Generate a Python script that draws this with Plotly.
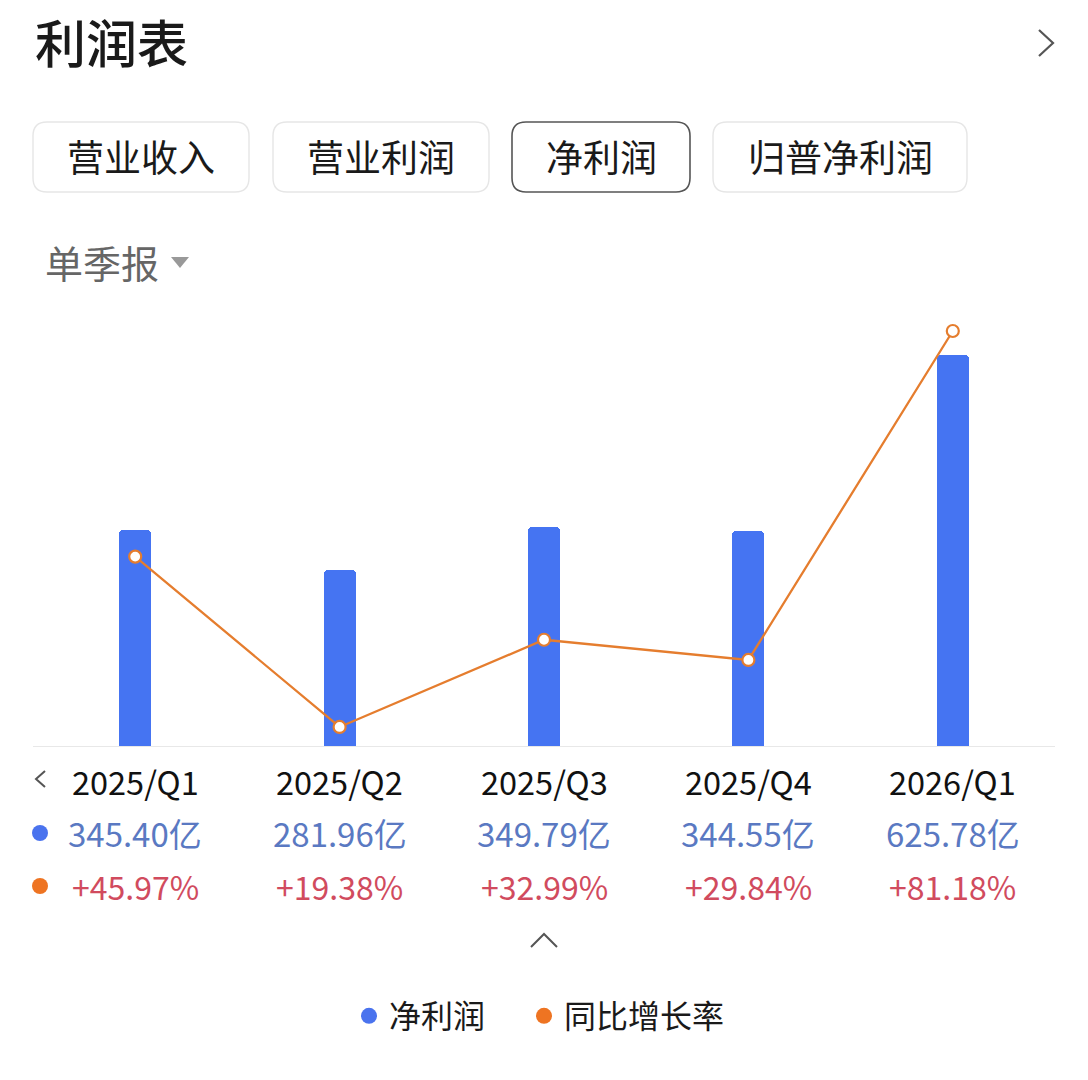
import plotly.graph_objects as go

# ---------------- data ----------------
categories = ["2025/Q1", "2025/Q2", "2025/Q3", "2025/Q4", "2026/Q1"]
net_profit = [345.40, 281.96, 349.79, 344.55, 625.78]          # 亿
yoy_growth = [45.97, 19.38, 32.99, 29.84, 81.18]               # %
tab_labels = ["营业收入", "营业利润", "净利润", "归普净利润"]
series_names = ["净利润", "同比增长率"]

W, H = 1088, 1080
FONT = "Noto Sans CJK SC, Noto Sans, sans-serif"
BLUE = "#4574F2"
ORANGE = "#E57D2E"
VAL_BLUE = "#5A79C2"
PCT_RED = "#D14B5E"


def px(x):
    return x / W


def py(y):
    return 1 - y / H


# plot area in pixels
PL, PR, PT, PB = 33, 1055, 300, 746

fig = go.Figure()

fig.add_trace(go.Bar(
    x=categories, y=net_profit, name=series_names[0],
    marker=dict(color=BLUE, cornerradius=4, line=dict(width=0)),
    width=0.157, showlegend=False, hoverinfo="x+y",
))
fig.add_trace(go.Scatter(
    x=categories, y=yoy_growth, name=series_names[1], yaxis="y2",
    mode="lines+markers",
    line=dict(color=ORANGE, width=2.3),
    marker=dict(symbol="circle", size=12, color="white",
                line=dict(color=ORANGE, width=2.2)),
    showlegend=False, cliponaxis=False,
))
# legend entries (circle symbols), one legend box each
fig.add_trace(go.Scatter(x=[None], y=[None], mode="markers", name=series_names[0],
                         legend="legend",
                         marker=dict(symbol="circle", size=16, color="#4A73EE")))
fig.add_trace(go.Scatter(x=[None], y=[None], mode="markers", name=series_names[1],
                         legend="legend2",
                         marker=dict(symbol="circle", size=16, color="#EE7422")))

shapes = []
annotations = []

# title and chevron
annotations.append(dict(text="利润表", x=px(33), y=py(41), xref="paper", yref="paper",
                        xanchor="left", yanchor="middle", showarrow=False,
                        font=dict(family=FONT, size=51, color="#1a1a1a", weight=500)))
shapes.append(dict(type="path", xref="paper", yref="paper",
                   path=f"M {px(1039)},{py(30)} L {px(1053)},{py(43)} L {px(1039)},{py(56)}",
                   line=dict(color="#555555", width=2.2)))


def rounded_rect(x0, y0, x1, y1, r):
    X = lambda v: px(v)
    Y = lambda v: py(v)
    return (f"M {X(x0 + r)},{Y(y0)} L {X(x1 - r)},{Y(y0)} Q {X(x1)},{Y(y0)} {X(x1)},{Y(y0 + r)} "
            f"L {X(x1)},{Y(y1 - r)} Q {X(x1)},{Y(y1)} {X(x1 - r)},{Y(y1)} "
            f"L {X(x0 + r)},{Y(y1)} Q {X(x0)},{Y(y1)} {X(x0)},{Y(y1 - r)} "
            f"L {X(x0)},{Y(y0 + r)} Q {X(x0)},{Y(y0)} {X(x0 + r)},{Y(y0)} Z")


tab_boxes = [(33, 249), (273, 489), (512, 690), (713, 967)]
for i, (lbl, (x0, x1)) in enumerate(zip(tab_labels, tab_boxes)):
    selected = lbl == "净利润"
    shapes.append(dict(type="path", xref="paper", yref="paper",
                       path=rounded_rect(x0, 122, x1, 192, 14),
                       line=dict(color="#555555" if selected else "#E6E6E6",
                                 width=1.6 if selected else 1.4),
                       fillcolor="white", layer="below"))
    annotations.append(dict(text=lbl, x=px((x0 + x1) / 2), y=py(156), xref="paper", yref="paper",
                            xanchor="center", yanchor="middle", showarrow=False,
                            font=dict(family=FONT, size=37, color="#1a1a1a")))

# 单季报 selector
annotations.append(dict(text="单季报", x=px(43), y=py(261), xref="paper", yref="paper",
                        xanchor="left", yanchor="middle", showarrow=False,
                        font=dict(family=FONT, size=38, color="#666666")))
shapes.append(dict(type="path", xref="paper", yref="paper",
                   path=f"M {px(171)},{py(257)} L {px(189)},{py(257)} L {px(180)},{py(268)} Z",
                   fillcolor="#999999", line=dict(width=0)))

# category / value rows
for c, v, g in zip(categories, net_profit, yoy_growth):
    annotations.append(dict(text=c, x=c, y=py(780), xref="x", yref="paper",
                            xanchor="center", yanchor="middle", showarrow=False,
                            font=dict(family=FONT, size=32.5, color="#111111")))
    annotations.append(dict(text=f"{v:.2f}亿", x=c, y=py(833), xref="x", yref="paper",
                            xanchor="center", yanchor="middle", showarrow=False,
                            font=dict(family=FONT, size=33, color=VAL_BLUE)))
    annotations.append(dict(text=f"+{g:.2f}%", x=c, y=py(886), xref="x", yref="paper",
                            xanchor="center", yanchor="middle", showarrow=False,
                            font=dict(family=FONT, size=32, color=PCT_RED)))

# left arrow and row dots
shapes.append(dict(type="path", xref="paper", yref="paper",
                   path=f"M {px(45)},{py(771)} L {px(36)},{py(779)} L {px(45)},{py(787)}",
                   line=dict(color="#555555", width=2)))
shapes.append(dict(type="circle", xref="paper", yref="paper",
                   x0=px(32), x1=px(48), y0=py(825), y1=py(841),
                   fillcolor="#4A73EE", line=dict(width=0)))
shapes.append(dict(type="circle", xref="paper", yref="paper",
                   x0=px(32), x1=px(48), y0=py(878), y1=py(894),
                   fillcolor="#EE7422", line=dict(width=0)))
# expand/collapse caret
shapes.append(dict(type="path", xref="paper", yref="paper",
                   path=f"M {px(531)},{py(947)} L {px(544)},{py(934)} L {px(557)},{py(947)}",
                   line=dict(color="#555555", width=2)))

legend_style = dict(orientation="h", yanchor="middle", y=py(1016), xanchor="left",
                    font=dict(family=FONT, size=32, color="#1a1a1a"),
                    itemsizing="trace", bgcolor="rgba(0,0,0,0)")

fig.update_layout(
    width=W, height=H,
    margin=dict(l=0, r=0, t=0, b=0),
    paper_bgcolor="white", plot_bgcolor="white",
    font=dict(family=FONT),
    xaxis=dict(type="category", domain=[px(PL), px(PR)], range=[-0.5, 4.5],
               showticklabels=False, showgrid=False, zeroline=False,
               showline=True, linecolor="#E8E8E8", linewidth=1, ticks=""),
    yaxis=dict(domain=[py(PB), py(PT)], range=[0, 713.6], visible=False,
               showgrid=False, zeroline=False),
    yaxis2=dict(overlaying="y", range=[16.41, 86.02], visible=False,
                showgrid=False, zeroline=False),
    bargap=0,
    showlegend=True,
    legend=dict(legend_style, x=px(349)),
    legend2=dict(legend_style, x=px(524)),
    shapes=shapes,
    annotations=annotations,
)

fig.write_html("out.html", config={"displayModeBar": False},
               post_script="document.body.style.margin='0';")
